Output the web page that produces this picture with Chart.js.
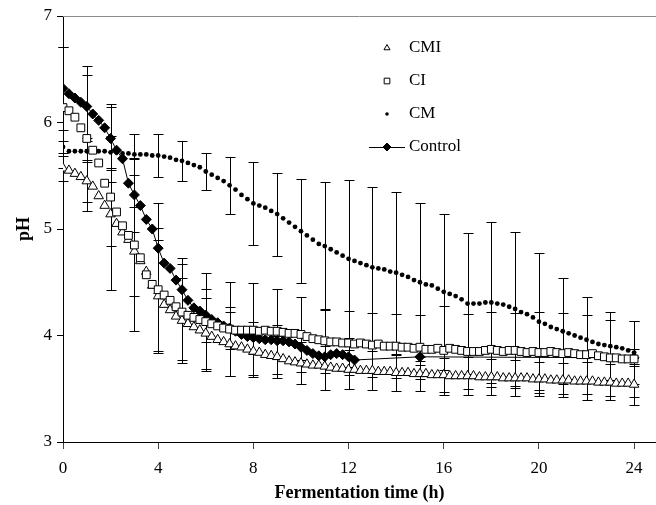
<!DOCTYPE html>
<html>
<head>
<meta charset="utf-8">
<script src="https://cdn.jsdelivr.net/npm/chart.js@4/dist/chart.umd.min.js"></script>
<style>
body{margin:0;background:#fff;}
</style>
</head>
<body>
<canvas id="ph" width="656" height="505"></canvas>
<script>
// sampling interval of the pH readings (h)
const step = 0.25;
const xTicks = [0, 4, 8, 12, 16, 20, 24];
const yTicks = [3, 4, 5, 6, 7];
const seriesNames = ['CMI', 'CI', 'CM', 'Control'];

// pH every 15 min, 0 - 24 h
const cmi = [
  5.57,5.55,5.52,5.49,5.45,5.40,5.31,5.22,
  5.14,5.05,4.97,4.90,4.79,4.70,4.60,4.47,
  4.37,4.29,4.24,4.18,4.14,4.11,4.08,4.05,
  4.02,3.99,3.96,3.94,3.92,3.90,3.89,3.87,
  3.85,3.84,3.82,3.81,3.80,3.78,3.76,3.75,
  3.74,3.73,3.72,3.72,3.71,3.70,3.69,3.69,
  3.68,3.68,3.67,3.67,3.67,3.66,3.66,3.66,
  3.65,3.65,3.65,3.64,3.64,3.64,3.63,3.63,
  3.63,3.62,3.62,3.62,3.62,3.62,3.61,3.61,
  3.61,3.61,3.60,3.60,3.60,3.60,3.60,3.59,
  3.59,3.59,3.58,3.58,3.58,3.58,3.57,3.57,
  3.57,3.57,3.56,3.56,3.56,3.55,3.55,3.55,
  3.54];
const ci = [
  6.14,6.11,6.05,5.95,5.85,5.74,5.62,5.43,
  5.30,5.16,5.03,4.94,4.85,4.73,4.57,4.48,
  4.43,4.38,4.33,4.27,4.22,4.19,4.17,4.15,
  4.13,4.11,4.09,4.07,4.06,4.05,4.05,4.05,
  4.05,4.04,4.05,4.04,4.04,4.03,4.02,4.02,
  4.01,3.99,3.97,3.96,3.95,3.94,3.94,3.93,
  3.93,3.92,3.93,3.92,3.91,3.92,3.90,3.90,
  3.90,3.89,3.89,3.88,3.89,3.87,3.87,3.88,
  3.86,3.88,3.87,3.86,3.85,3.85,3.85,3.86,
  3.87,3.86,3.85,3.86,3.86,3.85,3.84,3.85,
  3.84,3.84,3.85,3.84,3.83,3.84,3.83,3.82,
  3.82,3.83,3.81,3.80,3.79,3.79,3.78,3.78,
  3.78];
const cm = [
  5.77,5.73,5.73,5.73,5.73,5.73,5.73,5.73,
  5.72,5.72,5.71,5.71,5.70,5.70,5.70,5.69,
  5.69,5.68,5.67,5.65,5.64,5.62,5.60,5.58,
  5.54,5.51,5.48,5.45,5.41,5.37,5.32,5.28,
  5.24,5.22,5.20,5.17,5.14,5.10,5.06,5.02,
  4.98,4.94,4.90,4.86,4.84,4.81,4.78,4.75,
  4.72,4.70,4.68,4.66,4.64,4.63,4.62,4.60,
  4.59,4.57,4.55,4.52,4.50,4.48,4.47,4.44,
  4.41,4.39,4.37,4.34,4.30,4.30,4.30,4.31,
  4.31,4.30,4.29,4.27,4.25,4.22,4.20,4.17,
  4.13,4.11,4.08,4.06,4.04,4.02,4.00,3.98,
  3.96,3.94,3.92,3.91,3.90,3.89,3.88,3.86,
  3.84];
// control: every 15 min up to 12.25 h, then two late readings
const control = [
  6.32,6.27,6.23,6.19,6.15,6.08,6.02,5.95,
  5.85,5.74,5.66,5.43,5.32,5.22,5.09,5.00,
  4.82,4.68,4.63,4.52,4.43,4.33,4.26,4.23,
  4.19,4.15,4.12,4.09,4.07,4.04,4.01,3.99,
  3.98,3.97,3.96,3.96,3.95,3.95,3.94,3.92,
  3.89,3.86,3.83,3.81,3.80,3.82,3.83,3.82,3.80,3.77];
const controlLateHours = [15, 24];
const controlLate = [3.80, 3.79];

// standard deviations, one per hour
const hours = [0,1,2,3,4,5,6,7,8,9,10,11,12,13,14,15,16,17,18,19,20,21,22,23,24];
const cmiSd = [0.12,0.2,0.3,0.42,0.53,0.4,0.33,0.3,0.22,0.2,0.2,0.22,0.18,0.18,0.17,0.16,0.16,0.18,0.17,0.17,0.16,0.16,0.18,0.17,0.19];
const ciSd = [0.57,0.68,0.87,0.81,0.58,0.45,0.46,0.44,0.44,0.4,0.35,0.3,0.3,0.3,0.3,0.3,0.42,0.35,0.35,0.35,0.38,0.38,0.37,0.36,0.36];
const cmSd = [0.06,0.1,0.15,0.19,0.2,0.19,0.17,0.27,0.39,0.39,0.49,0.6,0.74,0.75,0.76,0.74,0.73,0.66,0.76,0.72,0.64,0.5,0.4,0.32,0.3];
const controlHours = [0,1,2,3,4,5,6,7,8,9,10,11,12,15,24];
const controlSd = [0.39,0.3,0.3,0.35,0.42,0.3,0.25,0.2,0.15,0.15,0.12,0.1,0.1,0.08,0.08];

const serif = '"Liberation Serif", "Times New Roman", serif';

const toPoints = (vals) => vals.map((v, i) => ({x: i * step, y: v}));

var controlPts = toPoints(control);
controlLateHours.forEach((h, i) => controlPts.push({x: h, y: controlLate[i]}));

// vertical error bars with caps
const errorBars = {
  id: 'errorBars',
  beforeDatasetsDraw(chart) {
    const ctx = chart.ctx;
    const xs = chart.scales.x, ys = chart.scales.y;
    ctx.save();
    ctx.strokeStyle = '#000';
    ctx.lineWidth = 1;
    chart.data.datasets.forEach(ds => {
      ds.errHours.forEach((h, i) => {
        const p = ds.data.find(d => Math.abs(d.x - h) < 1e-6);
        if (!p) return;
        const x = Math.round(xs.getPixelForValue(h)) + 0.5;
        const top = Math.round(ys.getPixelForValue(p.y + ds.sd[i])) + 0.5;
        const bot = Math.round(ys.getPixelForValue(p.y - ds.sd[i])) + 0.5;
        ctx.beginPath();
        ctx.moveTo(x, top); ctx.lineTo(x, bot);
        ctx.moveTo(x - 5, top); ctx.lineTo(x + 5, top);
        ctx.moveTo(x - 5, bot); ctx.lineTo(x + 5, bot);
        ctx.stroke();
      });
    });
    ctx.restore();
  }
};

// top frame line + legend inside the plot
const extras = {
  id: 'extras',
  afterDraw(chart) {
    const ctx = chart.ctx;
    const a = chart.chartArea;
    ctx.save();
    ctx.strokeStyle = '#8c8c8c';
    ctx.lineWidth = 1;
    ctx.beginPath();
    ctx.moveTo(a.left, a.top + 0.5);
    ctx.lineTo(a.right, a.top + 0.5);
    ctx.stroke();

    const marks = [
      {pointStyle: 'triangle', radius: 3.5, fill: '#fff', stroke: '#000', borderWidth: 1},
      {pointStyle: 'rect', radius: 4, fill: '#fff', stroke: '#000', borderWidth: 1},
      {pointStyle: 'circle', radius: 1.8, fill: '#000', stroke: '#000', borderWidth: 0},
      {pointStyle: 'rectRot', radius: 4, fill: '#000', stroke: '#000', borderWidth: 1}
    ];
    const mx = 387, tx = 409;
    const rows = [48, 81, 114, 147];
    ctx.font = '17px ' + serif;
    ctx.textBaseline = 'middle';
    seriesNames.forEach((name, i) => {
      ctx.strokeStyle = '#000';
      ctx.lineWidth = 1;
      if (name === 'Control') {
        ctx.beginPath();
        ctx.moveTo(369, rows[i] + 0.5);
        ctx.lineTo(405, rows[i] + 0.5);
        ctx.stroke();
      }
      ctx.fillStyle = marks[i].fill;
      ctx.strokeStyle = marks[i].stroke;
      ctx.lineWidth = marks[i].borderWidth;
      Chart.helpers.drawPoint(ctx, marks[i], mx, rows[i]);
      ctx.fillStyle = '#000';
      ctx.fillText(name, tx, rows[i]);
    });
    ctx.restore();
  }
};

var ctx = document.getElementById('ph').getContext('2d');
var chart = new Chart(ctx, {
  type: 'scatter',
  data: {
    datasets: [
      {label: 'CI', data: toPoints(ci), errHours: hours, sd: ciSd,
       pointStyle: 'rect', pointRadius: 5.5, pointBackgroundColor: '#fff', pointBorderColor: '#000', pointBorderWidth: 1, showLine: false},
      {label: 'Control', data: controlPts, errHours: controlHours, sd: controlSd,
       pointStyle: 'rectRot', pointRadius: 5, pointBackgroundColor: '#000', pointBorderColor: '#000', pointBorderWidth: 1,
       showLine: true, borderColor: '#000', borderWidth: 1},
      {label: 'CMI', data: toPoints(cmi), errHours: hours, sd: cmiSd,
       pointStyle: 'triangle', pointRadius: 5.5, pointBackgroundColor: '#fff', pointBorderColor: '#000', pointBorderWidth: 1, showLine: false},
      {label: 'CM', data: toPoints(cm), errHours: hours, sd: cmSd,
       pointStyle: 'circle', pointRadius: 2.4, pointBackgroundColor: '#000', pointBorderColor: '#000', pointBorderWidth: 0, showLine: false}
    ]
  },
  options: {
    responsive: false,
    animation: false,
    layout: {autoPadding: false, padding: {top: 16, left: 0, right: 0, bottom: 0}},
    plugins: {legend: {display: false}, tooltip: {enabled: false}},
    scales: {
      x: {
        type: 'linear', min: 0, max: 24.92,
        afterBuildTicks: s => { s.ticks = xTicks.map(v => ({value: v})); },
        afterFit: s => { s.height = 63; s.paddingLeft = 0; s.paddingRight = 0; },
        grid: {drawOnChartArea: false, tickLength: 7, color: '#444'},
        border: {color: '#000', width: 1},
        ticks: {color: '#000', padding: 9, maxRotation: 0, font: {family: serif, size: 17}},
        title: {display: true, text: 'Fermentation time (h)', color: '#000',
                font: {family: serif, size: 18, weight: 'bold'}, padding: {top: 0, bottom: 1}}
      },
      y: {
        min: 3, max: 7,
        afterBuildTicks: s => { s.ticks = yTicks.map(v => ({value: v})); },
        afterFit: s => { s.width = 63; s.paddingTop = 0; s.paddingBottom = 0; },
        grid: {drawOnChartArea: false, tickLength: 6, color: '#000'},
        border: {color: '#000', width: 1},
        ticks: {color: '#000', padding: 5, font: {family: serif, size: 17}},
        title: {display: true, text: 'pH', color: '#000',
                font: {family: serif, size: 18, weight: 'bold'}, padding: {top: 14, bottom: 0}}
      }
    }
  },
  plugins: [errorBars, extras]
});
</script>
</body>
</html>
